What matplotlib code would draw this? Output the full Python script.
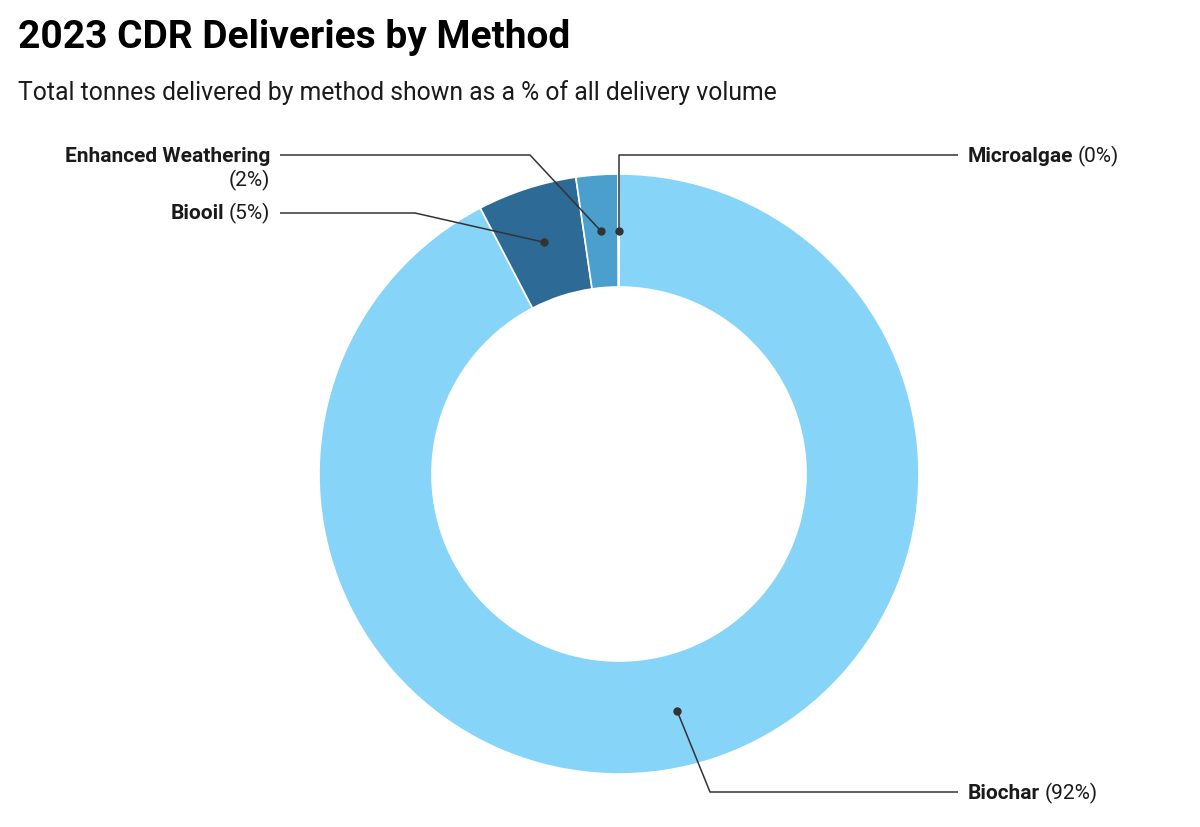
import matplotlib
matplotlib.use("Agg")
import matplotlib.pyplot as plt
import numpy as np

methods = ["Biochar", "Biooil", "Enhanced Weathering", "Microalgae"]
shares = [92.35, 5.35, 2.25, 0.05]
colors = ["#86d4f8", "#2d6a96", "#4b9fcc", "#86d4f8"]

title = "2023 CDR Deliveries by Method"
subtitle = "Total tonnes delivered by method shown as a % of all delivery volume"

plt.rcParams['font.family'] = ['Roboto', 'DejaVu Sans']

W, H = 1200, 827
fig = plt.figure(figsize=(12, 8.27), dpi=100)
ax = fig.add_axes([0, 0, 1, 1])

cx, cy = 619, H - 474
R, w = 300, 113
wedges, _ = ax.pie(shares, colors=colors, startangle=90, counterclock=False,
                   radius=R, center=(cx, cy),
                   wedgeprops=dict(width=w, edgecolor='white', linewidth=1.2))
ax.set_xlim(0, W)
ax.set_ylim(0, H)
ax.set_aspect('equal')
ax.axis('off')

fig.text(18 / W, 1 - 48 / H, title, fontsize=28, fontweight='bold', color='#000000',
         va='baseline', ha='left')
fig.text(18 / W, 1 - 100 / H, subtitle, fontsize=17.8, color='#1a1a1a',
         va='baseline', ha='left')

fig.canvas.draw()
renderer = fig.canvas.get_renderer()

LFS = 15

def yy(y):
    return H - y

def put_parts(x, y, parts, ha):
    objs = []
    for txt, wt in parts:
        t = ax.text(0, yy(y), txt, fontsize=LFS, fontweight=wt, color='#1a1a1a',
                    va='baseline', ha='left')
        objs.append(t)
    widths = [t.get_window_extent(renderer).width for t in objs]
    space = 0.22 * LFS * 100 / 72
    total = sum(widths) + space * (len(objs) - 1)
    start = x if ha == 'left' else x - total
    cur = start
    for t, wd in zip(objs, widths):
        t.set_x(cur)
        cur += wd + space

line_kw = dict(color='#333333', lw=1.1, solid_capstyle='butt')
r_mid = R - w / 2

def dot_of(i):
    wd = wedges[i]
    th = np.deg2rad((wd.theta1 + wd.theta2) / 2)
    return cx + r_mid * np.cos(th), cy + r_mid * np.sin(th)

def pct(v):
    return f"({int(round(v))}%)"

# Biochar
dx, dy = dot_of(0)
ax.plot([dx, 710, 958], [dy, yy(792), yy(792)], **line_kw)
ax.plot(dx, dy, 'o', color='#333333', ms=5)
put_parts(968, 799, [(methods[0], 'bold'), (pct(shares[0]), 'normal')], 'left')

# Biooil
dx, dy = dot_of(1)
ax.plot([dx, 415, 280], [dy, yy(213), yy(213)], **line_kw)
ax.plot(dx, dy, 'o', color='#333333', ms=5)
put_parts(270, 219, [(methods[1], 'bold'), (pct(shares[1]), 'normal')], 'right')

# Enhanced Weathering
dx, dy = dot_of(2)
ax.plot([dx, 530, 280], [dy, yy(155), yy(155)], **line_kw)
ax.plot(dx, dy, 'o', color='#333333', ms=5)
put_parts(270, 162, [(methods[2], 'bold')], 'right')
put_parts(270, 186, [(pct(shares[2]), 'normal')], 'right')

# Microalgae
dx, dy = dot_of(3)
ax.plot([dx, dx, 958], [dy, yy(155), yy(155)], **line_kw)
ax.plot(dx, dy, 'o', color='#333333', ms=5)
put_parts(968, 162, [(methods[3], 'bold'), (pct(shares[3]), 'normal')], 'left')

fig.savefig("out.png", dpi=100, facecolor='white')
